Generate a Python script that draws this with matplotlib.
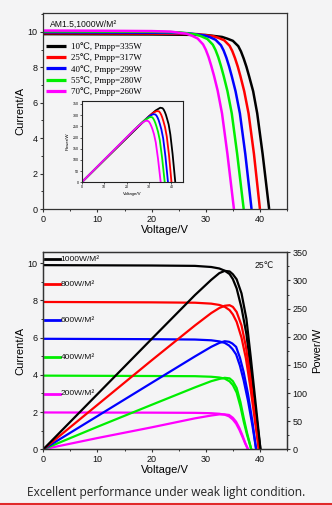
import matplotlib
matplotlib.use('Agg')
import matplotlib.pyplot as plt
from matplotlib.lines import Line2D
from matplotlib.ticker import MultipleLocator

# ---------------- top chart: temperature dependence ----------------
temp_labels = ['10℃, Pmpp=335W', '25℃, Pmpp=317W', '40℃, Pmpp=299W',
               '55℃, Pmpp=280W', '70℃, Pmpp=260W']
temp_colors = ['#000000', '#ff0000', '#0000ff', '#00ee00', '#ff00ff']

V_10C = [0, 10, 20, 30, 33, 34, 35, 36, 36.5, 37, 37.5, 38, 38.75, 39.5, 40.5, 41.7]
I_10C = [9.88, 9.87, 9.86, 9.83, 9.72, 9.62, 9.5, 9.2, 8.9, 8.5, 8.04, 7.5, 6.65, 5.4, 3.1, 0]
P_10C = [0, 99, 197, 295, 321, 327, 333, 331, 325, 315, 302, 285, 258, 213, 126, 0]

V_25C = [0, 10, 20, 28.4, 31.4, 32.4, 33.4, 34.4, 34.9, 35.4, 35.9, 36.4, 37.1, 37.9, 38.9, 40.0]
I_25C = [9.93, 9.92, 9.91, 9.88, 9.76, 9.66, 9.53, 9.22, 8.92, 8.52, 8.05, 7.5, 6.65, 5.4, 3.1, 0]
P_25C = [0, 99, 198, 281, 307, 313, 318, 317, 311, 302, 289, 273, 247, 205, 121, 0]

V_40C = [0, 10, 20, 26.8, 29.8, 30.8, 31.8, 32.8, 33.3, 33.8, 34.3, 34.8, 35.5, 36.3, 37.3, 38.45]
I_40C = [9.98, 9.97, 9.96, 9.93, 9.8, 9.7, 9.56, 9.25, 8.95, 8.55, 8.06, 7.5, 6.65, 5.4, 3.1, 0]
P_40C = [0, 100, 199, 266, 292, 299, 304, 303, 298, 289, 277, 261, 236, 196, 116, 0]

V_55C = [0, 10, 20, 25.2, 28.3, 29.3, 30.3, 31.3, 31.8, 32.3, 32.8, 33.3, 34.0, 34.8, 35.8, 37.0]
I_55C = [10.03, 10.02, 10.01, 9.98, 9.85, 9.74, 9.6, 9.28, 8.98, 8.58, 8.08, 7.52, 6.66, 5.4, 3.1, 0]
P_55C = [0, 100, 200, 252, 279, 285, 291, 291, 286, 277, 265, 250, 226, 188, 111, 0]

V_70C = [0, 10, 20, 23.5, 26.5, 27.5, 28.5, 29.5, 30.0, 30.5, 31.0, 31.5, 32.2, 33.0, 34.0, 35.2]
I_70C = [10.08, 10.07, 10.05, 10.02, 9.9, 9.78, 9.63, 9.3, 9.0, 8.6, 8.1, 7.55, 6.68, 5.4, 3.1, 0]
P_70C = [0, 101, 201, 236, 262, 269, 275, 274, 270, 262, 251, 238, 215, 178, 105, 0]

temp_V = [V_10C, V_25C, V_40C, V_55C, V_70C]
temp_I = [I_10C, I_25C, I_40C, I_55C, I_70C]
temp_P = [P_10C, P_25C, P_40C, P_55C, P_70C]

# ---------------- bottom chart: irradiance dependence ----------------
irr_labels = ['1000W/M²', '800W/M²', '600W/M²', '400W/M²', '200W/M²']
irr_colors = ['#000000', '#ff0000', '#0000ff', '#00ee00', '#ff00ff']

V_1000 = [0, 10, 20, 28, 31, 32.5, 33.5, 34.4, 35, 35.7, 36.6, 37.5, 38.3, 39.2, 40.1]
I_1000 = [9.9, 9.89, 9.88, 9.86, 9.8, 9.72, 9.6, 9.42, 9.15, 8.65, 7.6, 6.2, 4.3, 2.1, 0]
P_1000 = [0, 98, 196, 274, 301, 313, 317, 316, 311, 302, 277, 232, 164, 82, 0]

V_800 = [0, 10, 20, 28, 31, 32.5, 33.5, 34.4, 35, 35.7, 36.6, 37.4, 38.2, 39.0, 39.8]
I_800 = [7.92, 7.91, 7.9, 7.88, 7.83, 7.76, 7.66, 7.48, 7.25, 6.85, 6.0, 4.9, 3.4, 1.7, 0]
P_800 = [0, 79, 158, 220, 242, 251, 255, 256, 253, 244, 220, 183, 130, 66, 0]

V_600 = [0, 10, 20, 28, 31, 32.5, 33.5, 34.3, 34.9, 35.6, 36.3, 37.0, 37.8, 38.6, 39.3]
I_600 = [5.94, 5.93, 5.92, 5.9, 5.86, 5.8, 5.72, 5.58, 5.4, 5.1, 4.5, 3.7, 2.6, 1.3, 0]
P_600 = [0, 59, 118, 165, 182, 189, 192, 191, 188, 182, 163, 137, 98, 50, 0]

V_400 = [0, 10, 20, 28, 31, 32.5, 33.5, 34.4, 35.0, 35.7, 36.4, 37.0, 37.6, 38.4]
I_400 = [3.96, 3.95, 3.94, 3.93, 3.9, 3.86, 3.8, 3.65, 3.45, 3.05, 2.3, 1.5, 0.8, 0]
P_400 = [0, 40, 79, 110, 121, 125, 127, 126, 121, 109, 84, 56, 30, 0]

V_200 = [0, 10, 20, 28, 31, 32.5, 33.5, 34.3, 35.0, 35.6, 36.2, 36.8, 37.3, 37.8]
I_200 = [1.98, 1.975, 1.97, 1.96, 1.94, 1.91, 1.86, 1.77, 1.6, 1.38, 1.05, 0.65, 0.3, 0]
P_200 = [0, 20, 39, 55, 60, 62, 62, 61, 56, 49, 38, 24, 11, 0]

irr_V = [V_1000, V_800, V_600, V_400, V_200]
irr_I = [I_1000, I_800, I_600, I_400, I_200]
irr_P = [P_1000, P_800, P_600, P_400, P_200]

# ---------------- style ----------------
BG = '#f4f4f5'
SANS = ['Liberation Sans', 'DejaVu Sans']
SERIF = ['Liberation Serif', 'DejaVu Serif', 'Noto Sans CJK SC']
SP = '#333333'
plt.rcParams['font.family'] = SANS

fig = plt.figure(figsize=(3.32, 5.05), dpi=100, facecolor=BG)


def style_axis(ax, xmaj, xmin, ymaj, ymin, size=6.5):
    ax.set_facecolor(BG)
    for s in ax.spines.values():
        s.set_color(SP)
        s.set_linewidth(0.9)
    ax.xaxis.set_major_locator(MultipleLocator(xmaj))
    ax.xaxis.set_minor_locator(MultipleLocator(xmin))
    ax.yaxis.set_major_locator(MultipleLocator(ymaj))
    ax.yaxis.set_minor_locator(MultipleLocator(ymin))
    ax.tick_params(which='major', direction='out', length=2.5, width=0.8,
                   color=SP, labelsize=size, pad=1.5, labelcolor='#111111')
    ax.tick_params(which='minor', direction='out', length=1.5, width=0.7, color=SP)


# ---------------- top chart ----------------
ax1 = fig.add_axes([0.1304, 0.5861, 0.7341, 0.3881])
style_axis(ax1, 10, 5, 2, 1)
for V, I, c, lab in zip(temp_V, temp_I, temp_colors, temp_labels):
    ax1.plot(V, I, color=c, lw=1.8, label=lab, solid_capstyle='butt')
ax1.set_xlim(0, 45)
ax1.set_ylim(0, 11.07)
ax1.set_xlabel('Voltage/V', fontsize=8, labelpad=1)
ax1.set_ylabel('Current/A', fontsize=8, labelpad=2)
ax1.text(0.027, 0.944, 'AM1.5,1000W/M²', transform=ax1.transAxes,
         fontsize=6.2, va='center', ha='left', color='#111111')
leg = ax1.legend(loc='upper left', bbox_to_anchor=(0.01, 0.85), frameon=False,
                 prop={'family': SERIF, 'size': 6.4}, handlelength=2.3,
                 handletextpad=0.5, labelspacing=0.28, borderpad=0,
                 borderaxespad=0)
for h in leg.legend_handles:
    h.set_linewidth(2.3)

# inset
axi = fig.add_axes([0.2461, 0.639, 0.3042, 0.161])
axi.set_facecolor(BG)
for s in axi.spines.values():
    s.set_color('#222222')
    s.set_linewidth(0.8)
for V, P, c in zip(temp_V, temp_P, temp_colors):
    axi.plot(V, P, color=c, lw=1.3)
axi.set_xlim(0, 45)
axi.set_ylim(0, 363)
axi.xaxis.set_major_locator(MultipleLocator(10))
axi.yaxis.set_major_locator(MultipleLocator(50))
axi.tick_params(direction='out', length=1.2, width=0.5, labelsize=2.6, pad=0.8,
                color='#222222')
axi.set_xlabel('Voltage/V', fontsize=3.2, labelpad=2)
axi.set_ylabel('Power/W', fontsize=3.2, labelpad=2)

# ---------------- bottom chart ----------------
ax2 = fig.add_axes([0.1304, 0.1103, 0.7341, 0.3901])
style_axis(ax2, 10, 5, 2, 1)
ax3 = ax2.twinx()
ax3.yaxis.set_major_locator(MultipleLocator(50))
ax3.yaxis.set_minor_locator(MultipleLocator(25))
ax3.tick_params(which='major', direction='out', length=2.5, width=0.8,
                color=SP, labelsize=6.5, pad=1.5, labelcolor='#111111')
ax3.tick_params(which='minor', direction='out', length=1.5, width=0.7, color=SP)
for s in ax3.spines.values():
    s.set_color(SP)
    s.set_linewidth(0.9)

for V, I, P, c in list(zip(irr_V, irr_I, irr_P, irr_colors))[::-1]:
    ax2.plot(V, I, color=c, lw=1.6)
    ax3.plot(V, P, color=c, lw=1.6)

ax2.set_xlim(0, 45)
ax2.set_ylim(0, 10.59)
ax3.set_ylim(0, 350)
ax2.set_xlabel('Voltage/V', fontsize=8, labelpad=1)
ax2.set_ylabel('Current/A', fontsize=8, labelpad=2)
ax3.set_ylabel('Power/W', fontsize=8, labelpad=3)

label_y = [0.9645, 0.839, 0.656, 0.467, 0.281]
for lab, c, y in zip(irr_labels, irr_colors, label_y):
    ax2.add_line(Line2D([0.009, 0.069], [y, y], transform=ax2.transAxes,
                        color=c, lw=2.0, clip_on=False))
    ax2.text(0.071, y, lab, transform=ax2.transAxes, fontsize=6.0,
             va='center', ha='left', color='#111111')
ax2.text(0.908, 0.932, '25℃', transform=ax2.transAxes, fontsize=6.2,
         va='center', ha='center', color='#111111',
         family=['Liberation Sans', 'DejaVu Sans'])

# caption and red rule
fig.text(0.5, 1 - 492.7 / 505, 'Excellent performance under weak light condition.',
         ha='center', va='center', fontsize=8.6, color='#222222',
         family=['Open Sans', 'DejaVu Sans'])
fig.add_artist(Line2D([0, 1], [1 - 504 / 505, 1 - 504 / 505],
                      transform=fig.transFigure, color='#e02a2a', lw=1.5))

fig.savefig('out.png', dpi=100, facecolor=BG)
